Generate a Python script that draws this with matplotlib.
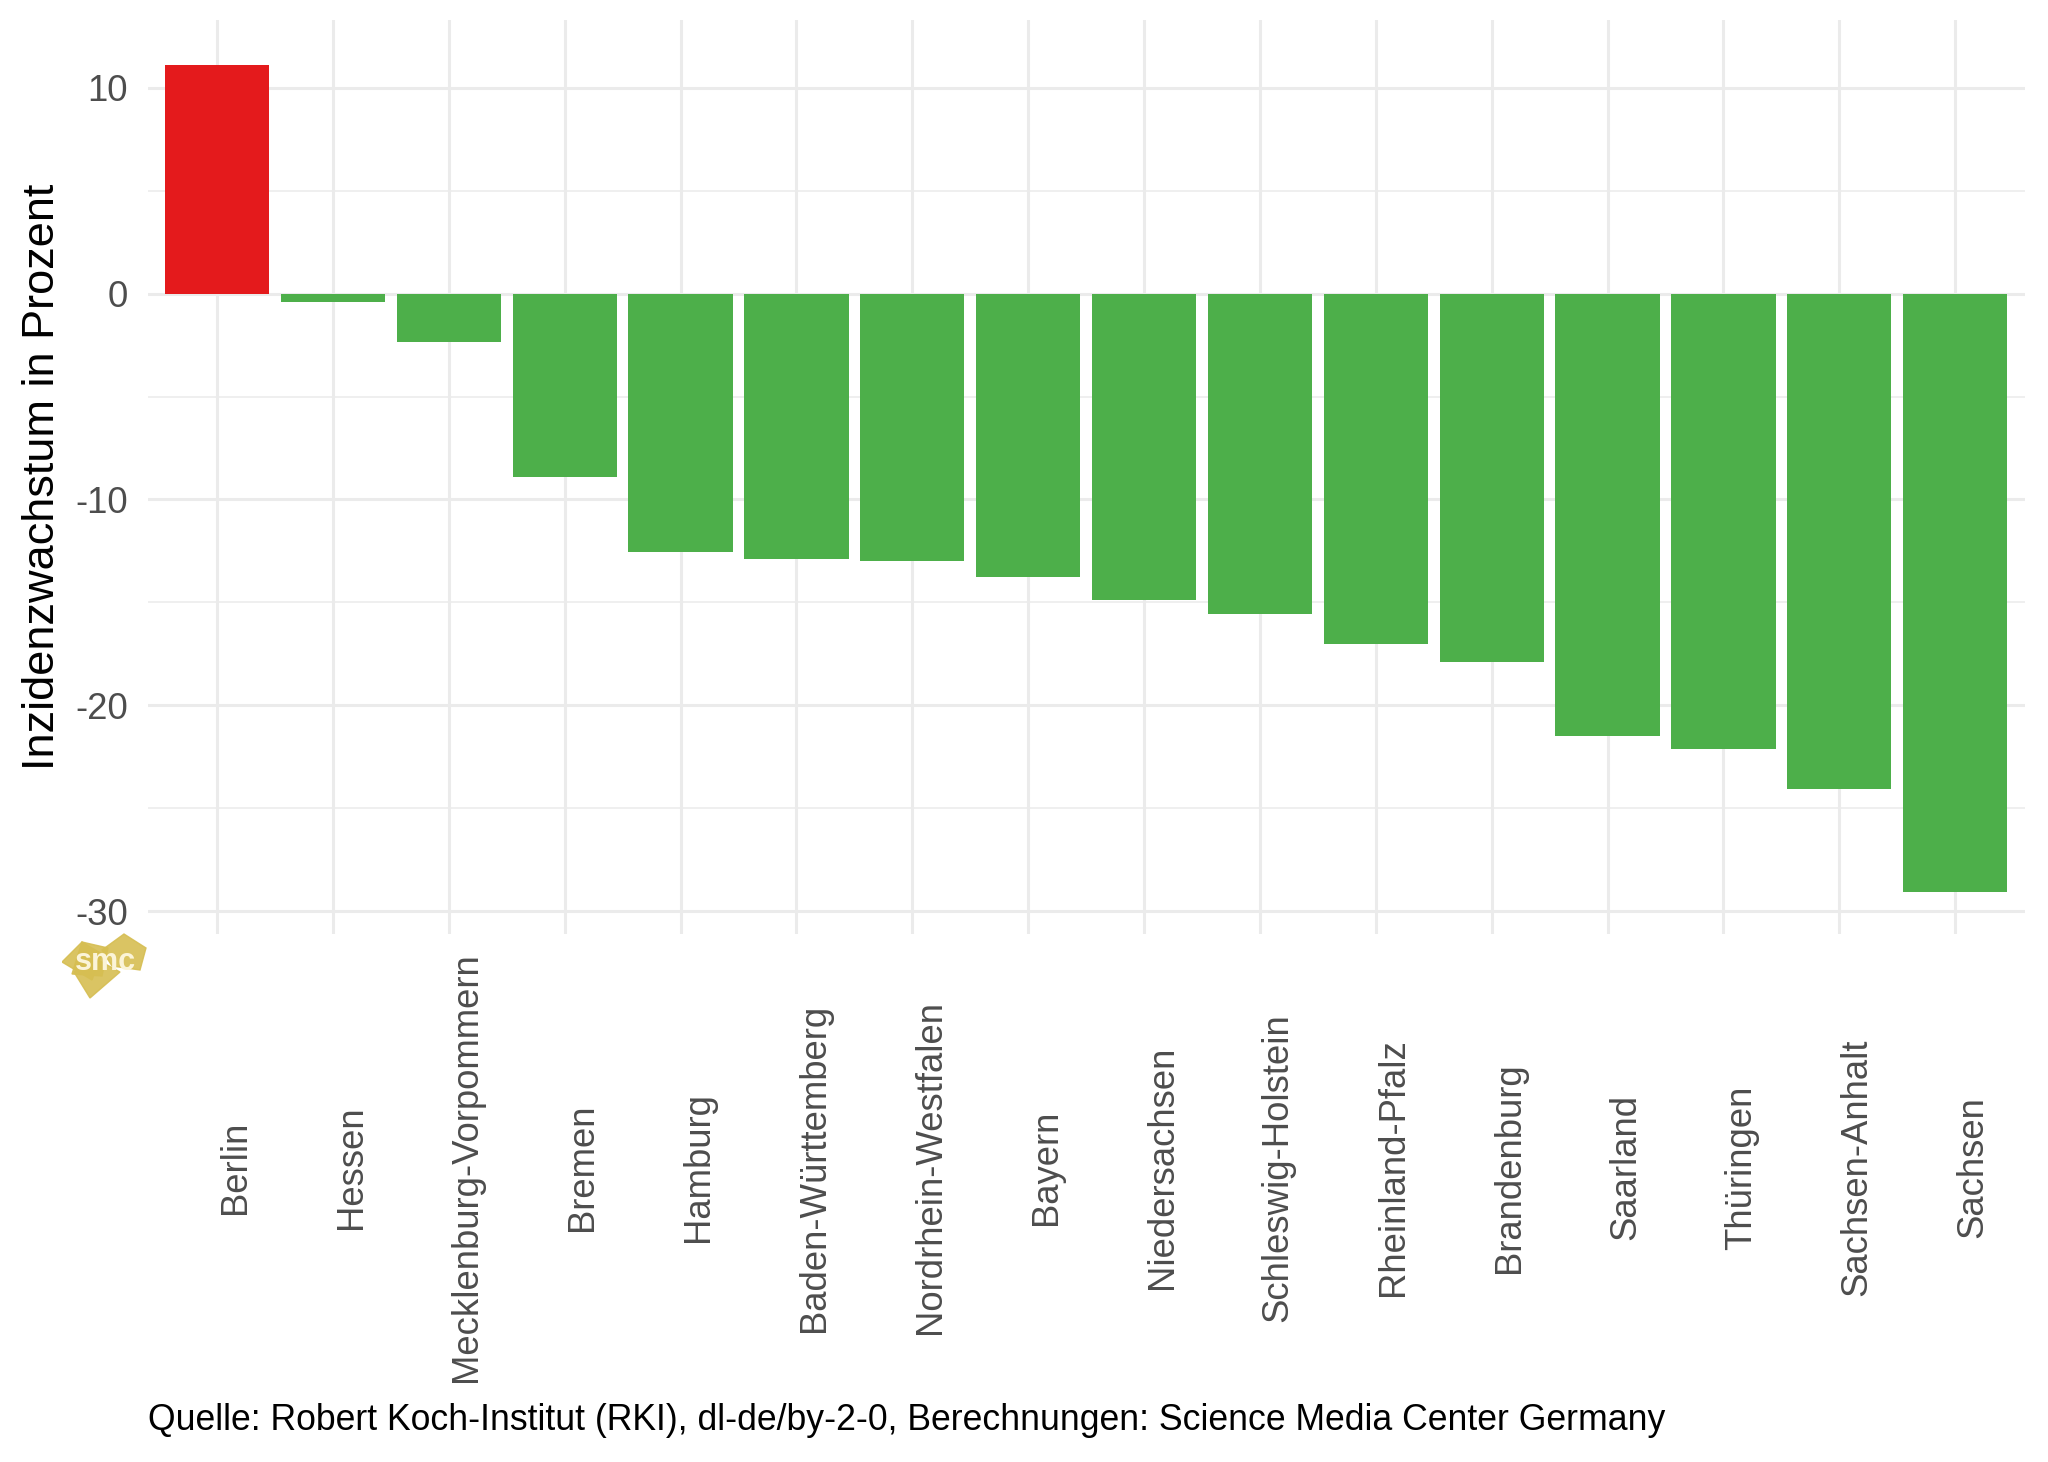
import matplotlib.pyplot as plt
from matplotlib.patches import Polygon
from matplotlib.transforms import ScaledTranslation

# Daten: Inzidenzwachstum je Bundesland (Prozent)
laender = ['Berlin', 'Hessen', 'Mecklenburg-Vorpommern', 'Bremen', 'Hamburg',
           'Baden-Württemberg', 'Nordrhein-Westfalen', 'Bayern', 'Niedersachsen',
           'Schleswig-Holstein', 'Rheinland-Pfalz', 'Brandenburg', 'Saarland',
           'Thüringen', 'Sachsen-Anhalt', 'Sachsen']
wachstum = [11.1, -0.4, -2.35, -8.9, -12.55, -12.9, -13.0, -13.75, -14.9,
            -15.55, -17.0, -17.9, -21.5, -22.1, -24.05, -29.05]
y_ticks = [10, 0, -10, -20, -30]
y_minor = [5, -5, -15, -25]

rot = '#E41A1C'
gruen = '#4DAF4A'
grid = '#EBEBEB'

plt.rcParams['font.family'] = ['Liberation Sans', 'DejaVu Sans']

fig = plt.figure(figsize=(20.48, 14.62), dpi=100)
ax = fig.add_axes([0.0721, 0.3611, 0.9165, 0.6255])

x = list(range(1, len(laender) + 1))
farben = [rot if w > 0 else gruen for w in wachstum]
ax.bar(x, wachstum, width=0.9, color=farben, zorder=3)

# Gitter wie ggplot theme_minimal
for t in y_minor:
    ax.axhline(t, color=grid, lw=1.1, zorder=1)
for t in y_ticks:
    ax.axhline(t, color=grid, lw=2.2, zorder=1)
for xi in x:
    ax.axvline(xi, color=grid, lw=2.2, zorder=1)

ax.set_xlim(0.4, len(laender) + 0.6)
ax.set_ylim(-31.1, 13.3)
ax.set_yticks(y_ticks)
ax.set_yticklabels([str(t) for t in y_ticks])
ax.set_xticks(x)
ax.set_xticklabels(laender, rotation=90, ha='center', va='center',
                   rotation_mode='anchor')
ax.tick_params(axis='both', length=0, labelsize=26.3, labelcolor='#4D4D4D')
ax.tick_params(axis='y', pad=14)
ax.tick_params(axis='x', pad=168)
for lab in ax.get_xticklabels():
    lab.set_transform(lab.get_transform() + ScaledTranslation(0.18, 0, fig.dpi_scale_trans))
for s in ax.spines.values():
    s.set_visible(False)

fig.text(43 / 2048, 0.6739, 'Inzidenzwachstum in Prozent', rotation=90,
         ha='center', va='center', fontsize=32.5, color='black')
fig.text(0.0721, 1 - 1421 / 1462,
         'Quelle: Robert Koch-Institut (RKI), dl-de/by-2-0, Berechnungen: Science Media Center Germany',
         ha='left', va='center', fontsize=25.7, color='black')

# kleines smc-Logo unten links
gold = '#D6BE52'
logo = fig.add_axes([62 / 2048, 1 - 1000 / 1462, 86 / 2048, 70 / 1462])
logo.set_xlim(0, 86)
logo.set_ylim(0, 70)
logo.axis('off')
for pts in [[(0, 38), (20, 58), (40, 46), (30, 20)],
            [(20, 58), (46, 52), (40, 24), (10, 26)],
            [(40, 50), (62, 66), (84, 52), (78, 30), (50, 34)],
            [(12, 28), (28, 2), (58, 28), (36, 40)]]:
    logo.add_patch(Polygon(pts, closed=True, color=gold, alpha=0.9))
logo.text(43, 38, 'smc', ha='center', va='center', fontsize=22,
          fontweight='bold', color='#FBF4D8')

fig.savefig('out.png', dpi=100)
